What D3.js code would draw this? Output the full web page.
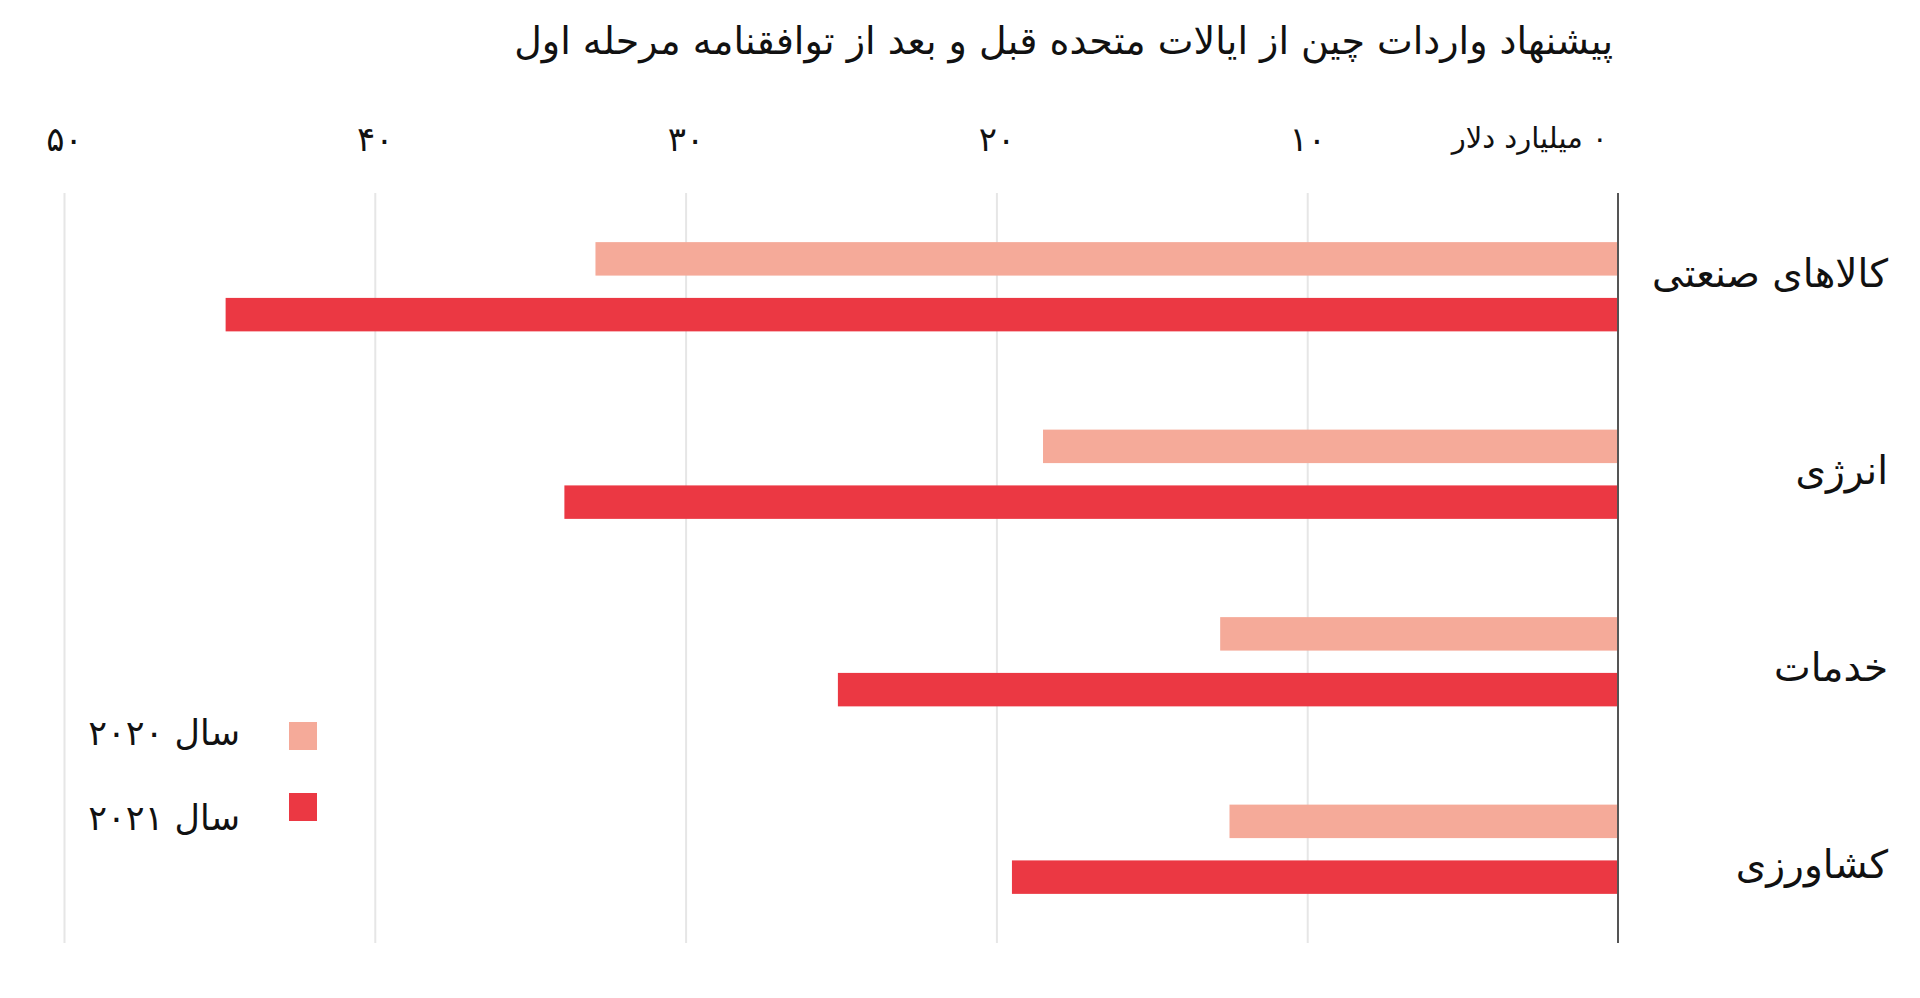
<!DOCTYPE html>
<html lang="fa">
<head>
<meta charset="utf-8">
<script src="https://cdn.jsdelivr.net/npm/d3@7"></script>
<style>
	body { margin: 0; background: #fff; }
	svg { display: block; }
	text { font-family: "DejaVu Sans", sans-serif; fill: #111; }
	.grid line { stroke: #e6e6e6; stroke-width: 2; }
	.grid path { display: none; }
	.axis.x path, .axis.x line { display: none; }
</style>
</head>
<body>
<div id="chart"></div>
<script>
// data (billion dollars)
var categories = ['کالاهای صنعتی', 'انرژی', 'خدمات', 'کشاورزی'];
var seriesNames = ['سال ۲۰۲۰', 'سال ۲۰۲۱'];
var values2020 = [32.9, 18.5, 12.8, 12.5];
var values2021 = [44.8, 33.9, 25.1, 19.5];
var xTicks = [0, 10, 20, 30, 40, 50];
var xTickLabels = ['۰ میلیارد دلار', '۱۰', '۲۰', '۳۰', '۴۰', '۵۰'];
var title = 'پیشنهاد واردات چین از ایالات متحده قبل و بعد از توافقنامه مرحله اول';

var width = 1920,
	height = 998,
	margin = {
		top: 193,
		right: 302,
		bottom: 55,
		left: 64
	};

var colors = ['#f5aa99', '#eb3843'];

var drawWidth = width - margin.left - margin.right;
var drawHeight = height - margin.top - margin.bottom;

// rows of table: one per category, one value per series
var rows = categories.map(function(c, i) {
	return { category: c, values: [values2020[i], values2021[i]] };
});

var xScale = d3.scaleLinear()
	.domain([0, 50])
	.range([drawWidth, 0]);

var yScale = d3.scaleBand()
	.domain(categories)
	.range([0, drawHeight])
	.padding(0);

var subScale = d3.scaleBand()
	.domain(d3.range(seriesNames.length))
	.range([yScale.bandwidth() * 0.262, yScale.bandwidth() * 0.738])
	.paddingInner(0.4);

// the category labels sit a bit more spread out than the bar groups
var labelScale = d3.scalePoint()
	.domain(categories)
	.range([287, 878]);

var svg = d3.select('#chart').append('svg')
	.attr('width', width)
	.attr('height', height);

svg.append('text')
	.attr('x', 1613)
	.attr('y', 54)
	.attr('direction', 'rtl')
	.attr('text-anchor', 'start')
	.style('font-size', '38px')
	.text(title);

var g = svg.append('g')
	.attr('transform', 'translate(' + margin.left + ',' + margin.top + ')');

// gridlines
g.append('g')
	.attr('class', 'grid')
	.call(d3.axisTop(xScale)
		.tickValues(xTicks.slice(1))
		.tickSize(-drawHeight)
		.tickFormat(''));

// tick labels above the plot
var xAxis = g.append('g')
	.attr('class', 'axis x')
	.attr('transform', 'translate(0,-42)')
	.call(d3.axisTop(xScale)
		.tickValues(xTicks)
		.tickSize(0)
		.tickFormat(function(d, i) { return xTickLabels[i]; }));

// persian digits come out small in DejaVu, so the bare numbers get a bigger size
xAxis.selectAll('text')
	.style('font-size', function(d) { return d === 0 ? '29px' : '34px'; })
	.style('font-family', '"DejaVu Sans", sans-serif')
	.attr('fill', '#111')
	.attr('direction', 'rtl')
	.attr('text-anchor', function(d) { return d === 0 ? 'start' : 'middle'; })
	.attr('dx', function(d) { return d === 0 ? -11 : 0; })
	.attr('y', function(d) { return d === 0 ? -3 : 0; });

// bars
var groups = g.selectAll('.row')
	.data(rows)
	.enter().append('g')
	.attr('class', 'row')
	.attr('transform', function(d) { return 'translate(0,' + yScale(d.category) + ')'; });

groups.selectAll('rect')
	.data(function(d) { return d.values; })
	.enter().append('rect')
	.attr('x', function(d) { return xScale(d); })
	.attr('y', function(d, i) { return subScale(i); })
	.attr('width', function(d) { return xScale(0) - xScale(d); })
	.attr('height', subScale.bandwidth())
	.attr('fill', function(d, i) { return colors[i]; });

// zero line
g.append('line')
	.attr('x1', xScale(0))
	.attr('x2', xScale(0))
	.attr('y1', 0)
	.attr('y2', drawHeight)
	.attr('stroke', '#555')
	.attr('stroke-width', 2);

// category labels
svg.append('g')
	.selectAll('text')
	.data(categories)
	.enter().append('text')
	.attr('x', 1888)
	.attr('y', function(d) { return labelScale(d); })
	.attr('direction', 'rtl')
	.attr('text-anchor', 'start')
	.style('font-size', '39px')
	.text(function(d) { return d; });

// legend
var legend = svg.append('g')
	.attr('class', 'legend')
	.selectAll('g')
	.data(seriesNames)
	.enter().append('g')
	.attr('transform', function(d, i) { return 'translate(0,' + (722 + i * 71) + ')'; });

legend.append('rect')
	.attr('x', 289)
	.attr('width', 28)
	.attr('height', 28)
	.attr('fill', function(d, i) { return colors[i]; });

legend.append('text')
	.attr('x', 240)
	.attr('y', function(d, i) { return 23 + i * 14; })
	.attr('direction', 'rtl')
	.attr('text-anchor', 'start')
	.style('font-size', '35px')
	.text(function(d) { return d; });
</script>
</body>
</html>
